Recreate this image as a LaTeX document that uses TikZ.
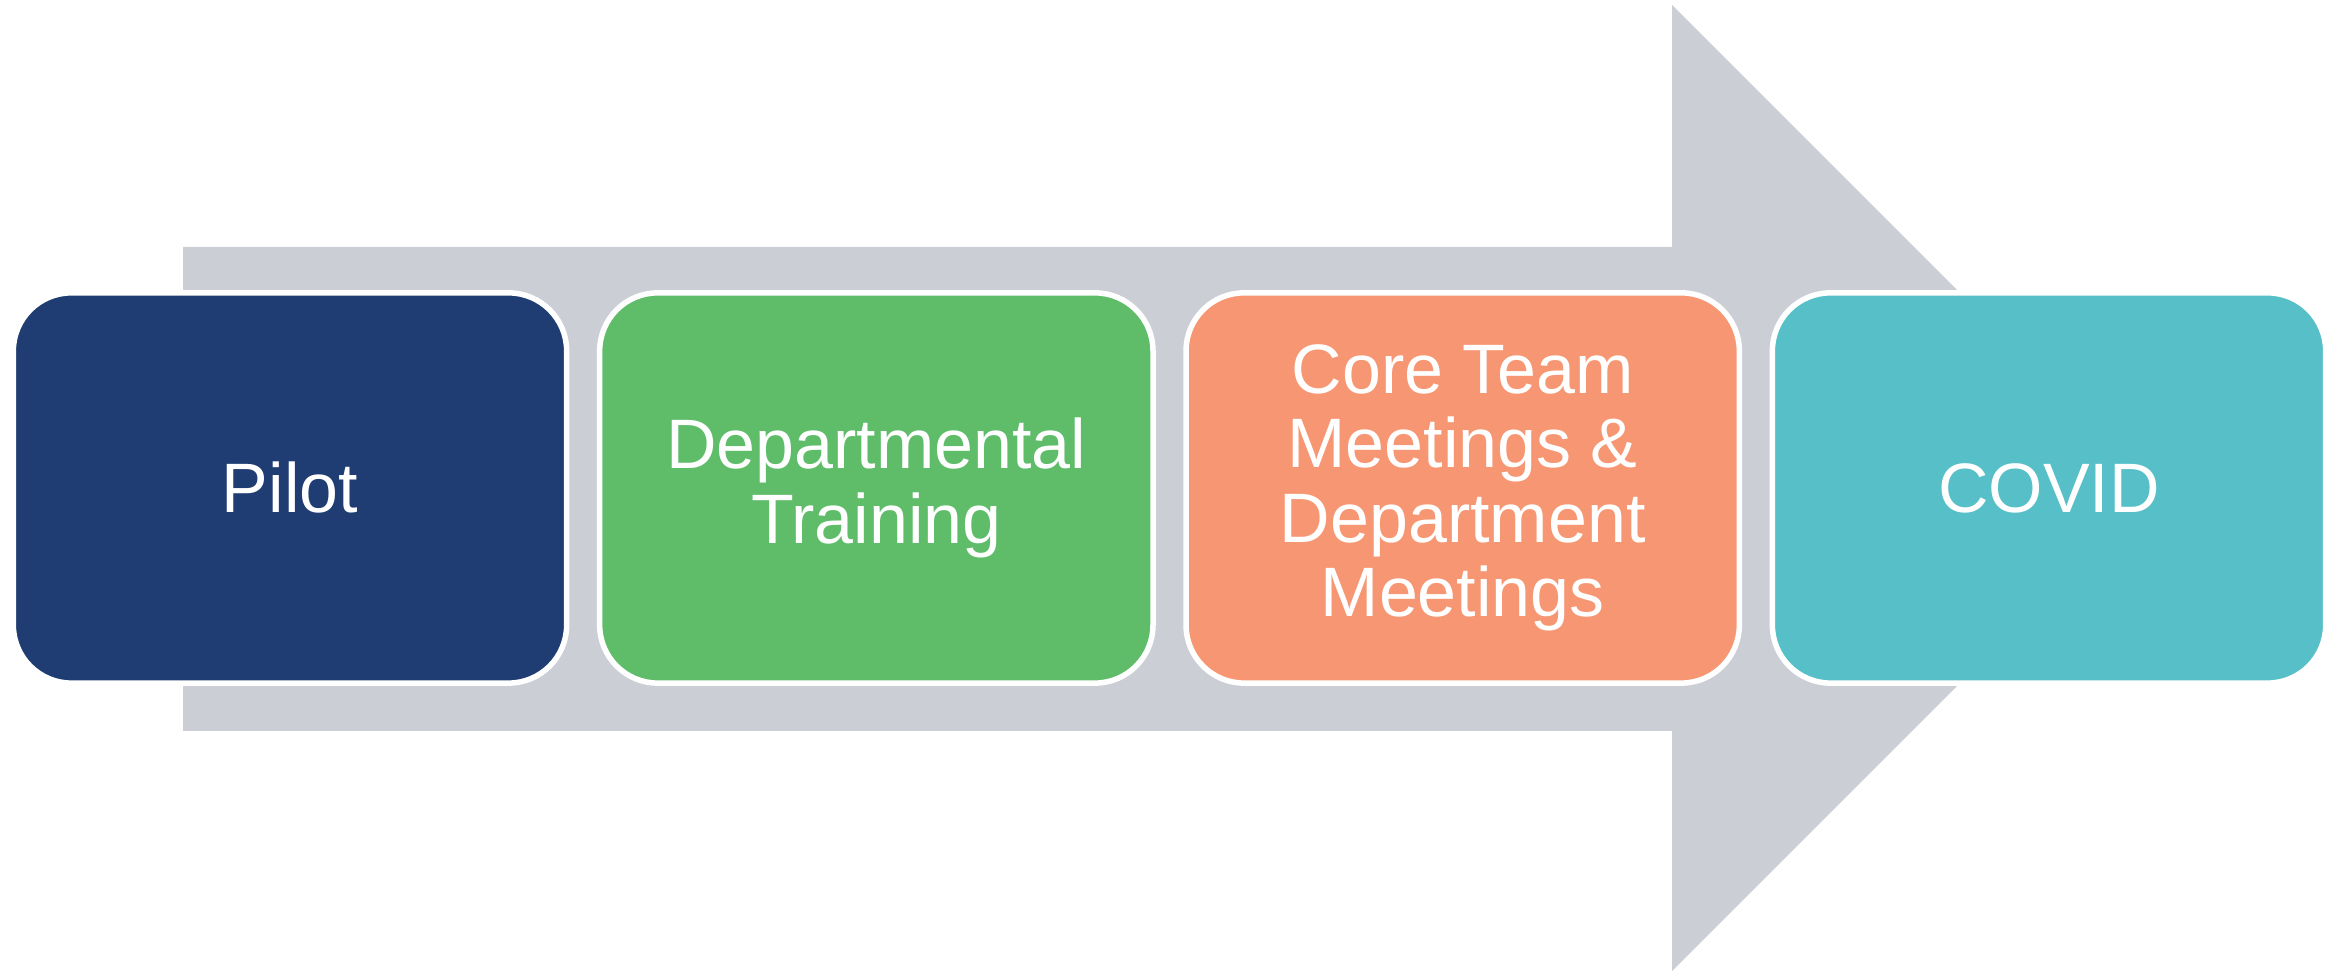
\documentclass[tikz,border=0pt]{standalone}
\usepackage{fontspec}
\setmainfont{Liberation Sans}
\usetikzlibrary{positioning}

\definecolor{navy}{HTML}{1F3D72}
\definecolor{leaf}{HTML}{5FBD6A}
\definecolor{salmon}{HTML}{F79672}
\definecolor{aqua}{HTML}{56BFC8}
\definecolor{shaft}{HTML}{CBCED5}

\begin{document}
\begin{tikzpicture}[
x=0.01cm, y=0.01cm,
stage/.style={rectangle, rounded corners=0.58cm, draw=white, line width=0.055cm, minimum width=5.53cm, minimum height=3.9cm, align=center, text=white, font=\fontsize{19.9}{21.2}\selectfont},
pilotbox/.style={stage, fill=navy},
trainbox/.style={stage, fill=leaf},
meetbox/.style={stage, fill=salmon},
covidbox/.style={stage, fill=aqua}
]
\useasboundingbox (0,0) rectangle (2339,971);

%Arrow behind the stages
\fill[shaft] (183,240) -- (183,724) -- (1672,724) -- (1672,966) -- (2155,483) -- (1672,0) -- (1672,240) -- cycle;

%Nodes
\node[pilotbox]	(pilot)			at (290,483)					{Pilot};
\node[trainbox]	(dept_training)	[right= 0.275cm of pilot]		{Departmental\\ Training};
\node[meetbox]	(core_meetings)	[right= 0.275cm of dept_training]	{Core Team\\ Meetings \&\\ Department\\ Meetings};
\node[covidbox]	(covid)			[right= 0.275cm of core_meetings]	{COVID};

\end{tikzpicture}
\end{document}
